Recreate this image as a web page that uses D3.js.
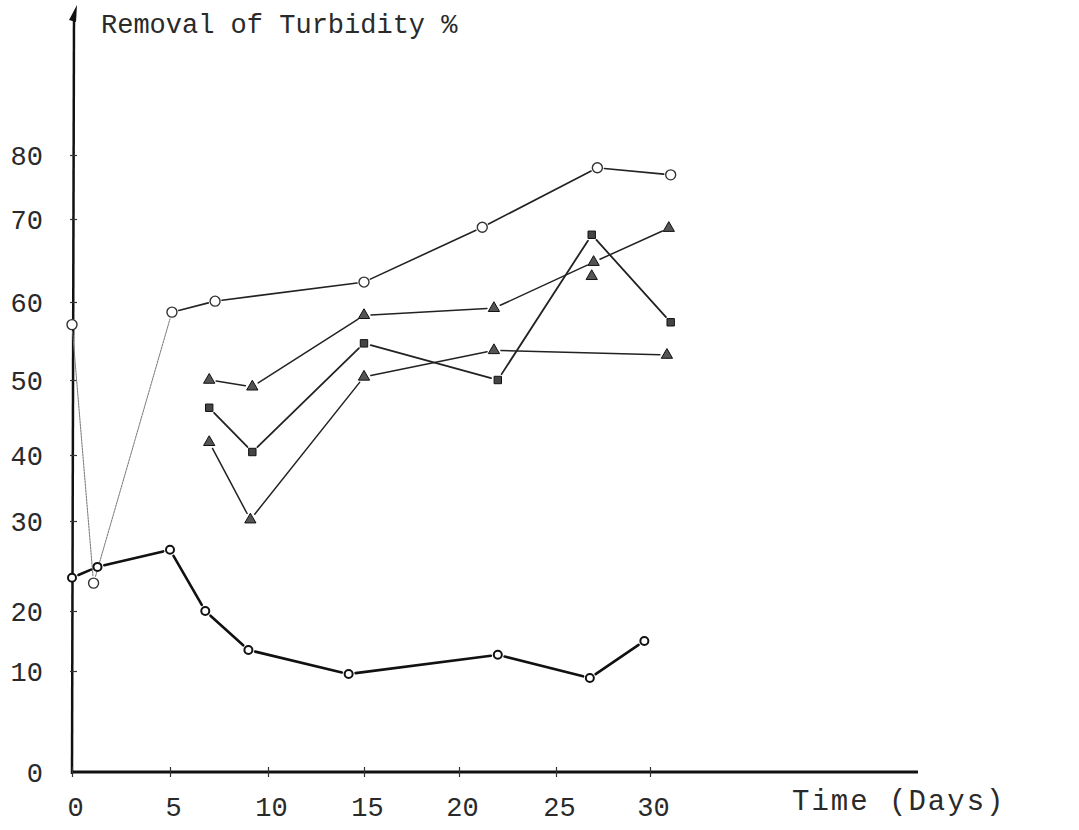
<!DOCTYPE html>
<html><head><meta charset="utf-8">
<script src="https://cdn.jsdelivr.net/npm/d3@7"></script>
<style>body{margin:0;background:#fff}svg{display:block}</style>
</head><body>
<svg id="c" width="1079" height="830"></svg>
<script>
// ---- data ----
const xTickValues = [0, 5, 10, 15, 20, 25, 30];
const yTickValues = [0, 10, 20, 30, 40, 50, 60, 70, 80];
const titleText = "Removal of Turbidity %";
const xLabelText = "Time (Days)";

const circleDays = [0, 1.1, 5.1, 7.3, 15, 21.2, 27.2, 31.1];
const circleVals = [57.1, 23.1, 58.7, 60.1, 62.4, 69.0, 78.0, 76.9];

const tri1Days = [7, 9.2, 15, 21.8, 27, 31];
const tri1Vals = [50.0, 49.1, 58.3, 59.2, 64.8, 68.9];

const triExtraDays = [26.9];
const triExtraVals = [63.1];

const squareDays = [7, 9.2, 15, 22, 26.9, 31.1];
const squareVals = [46.3, 40.4, 54.7, 50.0, 68.1, 57.4];

const tri2Days = [7, 9.1, 15, 21.8, 30.9];
const tri2Vals = [41.7, 30.2, 50.4, 53.8, 53.2];

const baseDays = [0, 1.3, 5, 6.8, 9, 14.2, 22, 26.8, 29.7];
const baseVals = [23.7, 24.9, 26.8, 20.0, 13.5, 9.7, 12.7, 9.3, 15.0];

// ---- layout ----
const svg = d3.select("#c");
const FONT = "'Liberation Mono', 'DejaVu Sans Mono', monospace";
const x = d3.scaleLinear().domain(xTickValues).range([72, 170, 268, 364, 459, 556, 650]);
const y = d3.scaleLinear().domain(yTickValues).range([772, 671, 611, 521, 455, 380, 302, 219, 155]);
const xEnd = 918;

// axes lines
svg.append("line").attr("x1", x(0)).attr("x2", xEnd).attr("y1", y(0)).attr("y2", y(0))
  .attr("stroke", "#111").attr("stroke-width", 3);
svg.append("line").attr("x1", x(0)).attr("x2", x(0) + 2).attr("y1", y(0) + 2).attr("y2", 16)
  .attr("stroke", "#111").attr("stroke-width", 2.5);
svg.append("path").attr("d", `M${x(0)-3},20 L${x(0)+5},5 L${x(0)+4},22 Z`).attr("fill", "#111");

// x axis ticks/labels
const gx = svg.append("g").attr("transform", `translate(0,${y(0)})`)
  .call(d3.axisBottom(x).tickValues(xTickValues).tickSizeInner(5).tickSizeOuter(0).tickPadding(20));
gx.select(".domain").remove();
gx.selectAll(".tick line").attr("y1", -5).attr("y2", 5).attr("stroke", "#333").attr("stroke-width", 1.2);
gx.selectAll(".tick text").attr("font-family", FONT).attr("font-size", 27).attr("fill", "#2a2a2a").attr("dx", 3);

// y axis ticks/labels
const gy = svg.append("g").attr("transform", `translate(${x(0)},0)`)
  .call(d3.axisLeft(y).tickValues(yTickValues).tickSizeInner(0).tickSizeOuter(0).tickPadding(29));
gy.select(".domain").remove();
gy.selectAll(".tick text").attr("font-family", FONT).attr("font-size", 27).attr("fill", "#2a2a2a").attr("dy", "0.35em");
gy.selectAll(".tick").filter(d => d > 0).append("line").attr("x1", -2).attr("x2", 5)
  .attr("stroke", "#333").attr("stroke-width", 1.2);

// title and x label
svg.append("text").attr("x", 101).attr("y", 33).text(titleText)
  .attr("font-family", FONT).attr("font-size", 27).attr("fill", "#2a2a2a");
svg.append("text").attr("x", 792).attr("y", 810).text(xLabelText)
  .attr("font-family", FONT).attr("font-size", 29).attr("letter-spacing", 2).attr("fill", "#2a2a2a");

// ---- series ----
function drawSeries(days, vals, style) {
  const pts = days.map((d, i) => [x(d), y(vals[i])]);
  const g = svg.append("g");
  for (let i = 0; i < pts.length - 1; i++) {
    const [x1, y1] = pts[i], [x2, y2] = pts[i + 1];
    const len = Math.hypot(x2 - x1, y2 - y1);
    const gap = style.gap;
    const ux = (x2 - x1) / len, uy = (y2 - y1) / len;
    const s = style.segStyle ? style.segStyle(i) : style;
    g.append("line")
      .attr("x1", x1 + ux * gap).attr("y1", y1 + uy * gap)
      .attr("x2", x2 - ux * gap).attr("y2", y2 - uy * gap)
      .attr("stroke", s.stroke).attr("stroke-width", s.width)
      .attr("stroke-dasharray", s.dash || null).attr("stroke-linecap", "round");
  }
  pts.forEach(p => style.marker(g, p));
}

const openCircle = (g, p) => g.append("circle").attr("cx", p[0]).attr("cy", p[1]).attr("r", 5)
  .attr("fill", "#fff").attr("stroke", "#333").attr("stroke-width", 1.4);
const triangle = (g, p) => g.append("path").attr("transform", `translate(${p[0]},${p[1]})`)
  .attr("d", d3.symbol(d3.symbolTriangle, 55)()).attr("fill", "#555").attr("stroke", "#111").attr("stroke-width", 1);
const square = (g, p) => g.append("path").attr("transform", `translate(${p[0]},${p[1]})`)
  .attr("d", d3.symbol(d3.symbolSquare, 55)()).attr("fill", "#444").attr("stroke", "#111").attr("stroke-width", 1);
const dotMark = (g, p) => g.append("circle").attr("cx", p[0]).attr("cy", p[1]).attr("r", 4)
  .attr("fill", "#fff").attr("stroke", "#111").attr("stroke-width", 2);

drawSeries(circleDays, circleVals, {
  gap: 7, marker: openCircle,
  segStyle: i => i < 2 ? { stroke: "#777", width: 1, dash: "2,1" } : { stroke: "#222", width: 1.6 }
});
drawSeries(tri1Days, tri1Vals, { gap: 7, marker: triangle, stroke: "#222", width: 1.5 });
drawSeries(squareDays, squareVals, { gap: 7, marker: square, stroke: "#222", width: 1.8 });
drawSeries(tri2Days, tri2Vals, { gap: 7, marker: triangle, stroke: "#222", width: 1.5 });
drawSeries(triExtraDays, triExtraVals, { gap: 7, marker: triangle, stroke: "#222", width: 1.5 });
drawSeries(baseDays, baseVals, { gap: 7, marker: dotMark, stroke: "#111", width: 2.6 });
</script>
</body></html>
